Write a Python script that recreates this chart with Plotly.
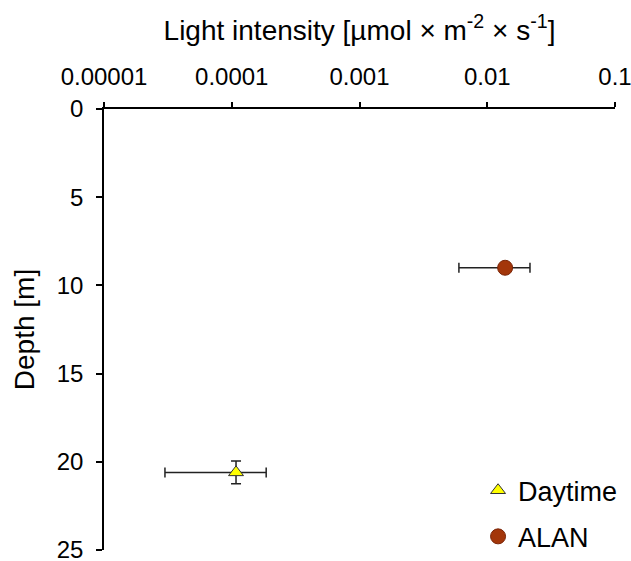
import plotly.graph_objects as go

# Data
series_names = ["Daytime", "ALAN"]
light_intensity = [0.000108, 0.0138]
light_err = [0.000078, 0.0078]
depth = [20.6, 9.0]
depth_err = [0.65, 0.0]
x_tick_vals = [0.00001, 0.0001, 0.001, 0.01, 0.1]
x_tick_text = ["0.00001", "0.0001", "0.001", "0.01", "0.1"]
y_tick_vals = [0, 5, 10, 15, 20, 25]

symbols = ["triangle-up", "circle"]
fills = ["#FFFF00", "#A3360A"]
lines = ["#333333", "#7A2508"]
sizes = [13, 15]

fig = go.Figure()
for i, name in enumerate(series_names):
    fig.add_trace(go.Scatter(
        x=[light_intensity[i]], y=[depth[i]], mode="markers", name=name,
        legendgroup=name,
        marker=dict(symbol=symbols[i], size=sizes[i], color=fills[i],
                    line=dict(color=lines[i], width=1)),
        error_x=dict(type="data", array=[light_err[i]], color="#222222",
                     thickness=1.5, width=5),
        error_y=dict(type="data", array=[depth_err[i]], color="#222222",
                     thickness=1.5, width=5, visible=depth_err[i] > 0),
    ))

fig.update_layout(
    width=631, height=561,
    margin=dict(l=104, r=16, t=109, b=11, autoexpand=False),
    paper_bgcolor="white", plot_bgcolor="white",
    font=dict(family="Liberation Sans, Arial, sans-serif", size=24, color="#000000"),
    showlegend=True,
    legend=dict(x=0.732, y=0.19, xanchor="left", yanchor="top",
                font=dict(size=27), tracegroupgap=8, itemwidth=30,
                bgcolor="rgba(0,0,0,0)"),
    xaxis=dict(
        type="log", side="top", range=[-5, -1], automargin=False,
        tickvals=x_tick_vals, ticktext=x_tick_text,
        showgrid=False, zeroline=False,
        showline=True, linecolor="#000000", linewidth=1.5,
        ticks="outside", ticklen=5, tickcolor="#000000", tickwidth=1.5,
        tickfont=dict(size=24), ticklabelstandoff=8, ticklabeloverflow="allow",
        title=dict(text="Light intensity [µmol × m<sup>-2</sup> × s<sup>-1</sup>]",
                   font=dict(size=28), standoff=14),
    ),
    yaxis=dict(
        range=[25, 0], tickvals=y_tick_vals, automargin=False,
        showgrid=False, zeroline=False,
        showline=True, linecolor="#000000", linewidth=1.5,
        ticks="outside", ticklen=6, tickcolor="#000000", tickwidth=1.5,
        tickfont=dict(size=24), ticklabelstandoff=8, ticklabeloverflow="allow",
        title=dict(text="Depth [m]", font=dict(size=28), standoff=14),
    ),
)

fig.write_html("out.html", config={"displayModeBar": False},
               post_script="document.body.style.margin='0';")
